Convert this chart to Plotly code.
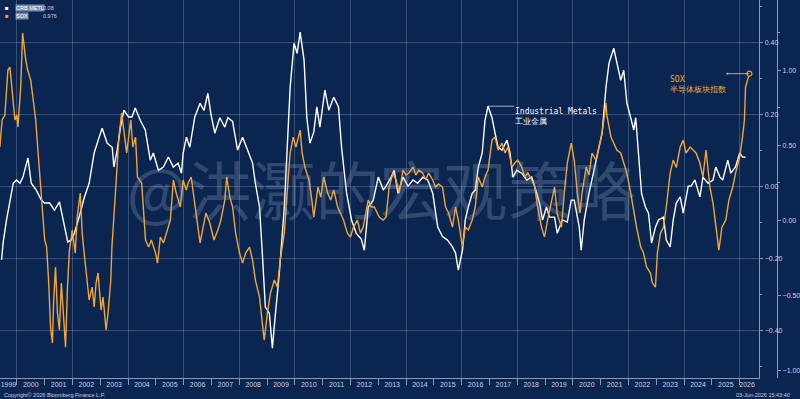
import numpy as np
import pandas as pd
import plotly.graph_objects as go

# ---- data (decimal years) ----
metals_t = [1999.45,1999.51,1999.63,1999.75,1999.87,1999.99,2000.11,2000.22,2000.40,2000.52,2000.70,2000.88,
 2001.00,2001.18,2001.35,2001.53,2001.71,2001.83,2001.95,2002.07,2002.24,2002.42,2002.60,2002.78,2002.96,
 2003.07,2003.25,2003.43,2003.49,2003.61,2003.73,2003.85,2004.02,2004.14,2004.26,2004.44,2004.62,2004.80,
 2004.91,2005.09,2005.27,2005.45,2005.63,2005.80,2005.92,2005.98,2006.10,2006.22,2006.40,2006.59,2006.73,
 2006.87,2006.98,2007.12,2007.30,2007.48,2007.59,2007.76,2007.94,2008.12,2008.30,2008.48,2008.58,2008.73,
 2008.83,2008.94,2009.08,2009.19,2009.29,2009.44,2009.62,2009.72,2009.83,2009.97,2010.08,2010.19,2010.33,
 2010.43,2010.54,2010.68,2010.79,2010.90,2011.08,2011.22,2011.40,2011.57,2011.68,2011.86,2012.04,2012.21,
 2012.39,2012.50,2012.64,2012.82,2013.00,2013.18,2013.28,2013.46,2013.57,2013.71,2013.89,2014.07,2014.25,
 2014.42,2014.60,2014.78,2014.96,2015.14,2015.31,2015.49,2015.67,2015.78,2015.88,2016.03,2016.13,2016.24,
 2016.38,2016.49,2016.60,2016.74,2016.84,2016.95,2017.09,2017.20,2017.31,2017.45,2017.63,2017.74,2017.84,
 2017.98,2018.16,2018.34,2018.52,2018.70,2018.80,2018.91,2019.05,2019.16,2019.34,2019.44,2019.62,2019.80,
 2019.94,2020.05,2020.23,2020.30,2020.41,2020.58,2020.76,2020.94,2021.05,2021.19,2021.30,2021.47,2021.58,
 2021.72,2021.83,2021.94,2022.08,2022.19,2022.26,2022.36,2022.47,2022.61,2022.72,2022.83,2022.97,2023.08,
 2023.26,2023.36,2023.50,2023.61,2023.72,2023.86,2023.97,2024.15,2024.25,2024.39,2024.57,2024.68,2024.86,
 2025.04,2025.14,2025.29,2025.39,2025.57,2025.68,2025.85,2026.00,2026.10,2026.21]
metals_v = [-0.205,-0.155,-0.094,-0.039,0.008,0.017,0.008,0.025,0.078,0.008,-0.011,-0.039,
 -0.047,-0.047,-0.067,-0.044,-0.114,-0.155,-0.150,-0.131,-0.086,-0.033,0.008,0.092,0.136,
 0.161,0.119,0.108,0.053,0.100,0.164,0.211,0.192,0.192,0.217,0.183,0.156,0.072,
 0.092,0.044,0.053,0.081,0.053,0.064,0.036,0.092,0.136,0.108,0.192,0.230,0.210,
 0.258,0.200,0.147,0.190,0.164,0.190,0.180,0.100,0.136,0.100,0.064,0.008,-0.058,
 -0.186,-0.336,-0.353,-0.450,-0.363,-0.242,-0.058,0.092,0.275,0.397,0.369,0.428,0.350,
 0.190,0.119,0.150,0.220,0.164,0.267,0.211,0.247,0.220,0.108,-0.019,-0.094,-0.131,
 -0.147,-0.178,-0.058,-0.039,0.025,-0.011,0.000,0.025,0.044,-0.020,0.025,0.000,0.017,
 0.008,0.025,0.017,-0.020,-0.114,-0.140,-0.150,-0.169,-0.186,-0.233,-0.178,-0.094,-0.058,
 -0.020,-0.011,0.053,0.092,0.183,0.222,0.190,0.147,0.108,0.100,0.128,0.092,0.025,
 0.044,0.036,0.017,0.025,-0.020,-0.047,-0.094,-0.058,-0.086,-0.086,-0.131,-0.094,-0.100,
 -0.039,-0.039,-0.114,-0.178,-0.094,-0.020,0.044,0.108,0.147,0.275,0.342,0.383,0.342,
 0.294,0.322,0.231,0.190,0.156,0.190,0.092,-0.020,-0.058,-0.075,-0.158,-0.114,-0.094,
 -0.086,-0.150,-0.169,-0.094,-0.047,-0.030,-0.075,0.000,0.000,0.017,-0.030,0.025,0.008,
 0.017,0.053,0.025,0.017,0.072,0.036,0.053,0.092,0.081,0.080]

sox_t = [1999.39,1999.47,1999.57,1999.68,1999.75,1999.86,1999.93,2000.00,2000.04,2000.14,2000.21,2000.32,
 2000.39,2000.50,2000.57,2000.68,2000.75,2000.85,2000.93,2001.00,2001.07,2001.14,2001.21,2001.28,2001.32,
 2001.39,2001.46,2001.53,2001.60,2001.67,2001.75,2001.82,2001.89,2001.96,2001.99,2002.10,2002.17,2002.28,
 2002.35,2002.42,2002.49,2002.60,2002.71,2002.78,2002.85,2002.92,2003.03,2003.10,2003.21,2003.28,2003.38,
 2003.42,2003.56,2003.67,2003.77,2003.88,2003.95,2004.10,2004.17,2004.27,2004.34,2004.49,2004.56,2004.63,
 2004.74,2004.84,2004.99,2005.06,2005.16,2005.27,2005.38,2005.52,2005.63,2005.73,2005.88,2005.98,2006.09,
 2006.16,2006.27,2006.41,2006.59,2006.70,2006.80,2006.94,2007.09,2007.23,2007.34,2007.48,2007.55,2007.66,
 2007.76,2007.87,2008.01,2008.12,2008.23,2008.37,2008.48,2008.58,2008.73,2008.83,2008.90,2009.01,2009.12,
 2009.26,2009.37,2009.47,2009.62,2009.72,2009.83,2009.94,2010.04,2010.19,2010.26,2010.36,2010.51,2010.61,
 2010.68,2010.83,2010.93,2011.04,2011.18,2011.29,2011.40,2011.54,2011.65,2011.75,2011.89,2012.00,2012.11,
 2012.25,2012.36,2012.46,2012.64,2012.75,2012.86,2013.03,2013.18,2013.28,2013.39,2013.53,2013.64,2013.75,
 2013.89,2014.00,2014.10,2014.25,2014.35,2014.46,2014.60,2014.71,2014.81,2014.96,2015.06,2015.17,2015.31,
 2015.42,2015.53,2015.67,2015.78,2015.88,2016.03,2016.13,2016.24,2016.38,2016.49,2016.60,2016.74,2016.84,
 2016.95,2017.09,2017.20,2017.31,2017.45,2017.56,2017.66,2017.81,2017.91,2018.02,2018.16,2018.27,2018.38,
 2018.52,2018.63,2018.73,2018.87,2018.98,2019.09,2019.23,2019.34,2019.44,2019.59,2019.69,2019.80,2019.94,
 2020.05,2020.16,2020.26,2020.33,2020.48,2020.58,2020.69,2020.83,2020.94,2021.05,2021.19,2021.22,2021.37,
 2021.47,2021.58,2021.72,2021.83,2021.94,2022.08,2022.19,2022.29,2022.44,2022.54,2022.65,2022.79,2022.86,
 2022.97,2023.04,2023.15,2023.26,2023.36,2023.50,2023.61,2023.72,2023.86,2023.97,2024.07,2024.22,2024.32,
 2024.43,2024.57,2024.68,2024.79,2024.93,2025.04,2025.14,2025.25,2025.36,2025.50,2025.61,2025.75,2025.85,
 2026.00,2026.10,2026.17,2026.21,2026.28,2026.35]
sox_v = [0.487,0.667,0.700,1.000,1.020,0.820,0.667,0.700,0.620,0.887,1.247,1.067,
 1.000,0.933,0.820,0.667,0.487,0.247,0.000,-0.133,-0.180,-0.400,-0.713,-0.820,-0.553,
 -0.313,-0.620,-0.733,-0.420,-0.620,-0.847,-0.447,-0.200,-0.113,-0.067,-0.220,0.020,0.180,
 -0.087,-0.220,-0.353,-0.533,-0.447,-0.580,-0.420,-0.353,-0.600,-0.513,-0.733,-0.620,-0.400,
 -0.180,0.220,0.553,0.713,0.553,0.447,0.667,0.487,0.553,0.287,0.247,0.087,-0.133,
 -0.180,-0.133,-0.220,-0.287,-0.113,-0.153,-0.087,0.000,0.267,0.180,0.087,0.267,0.200,
 0.247,0.287,0.087,-0.153,-0.047,0.047,-0.020,-0.133,-0.067,0.000,0.133,0.287,0.153,
 0.087,-0.087,-0.220,-0.287,-0.220,-0.180,-0.267,-0.400,-0.513,-0.687,-0.800,-0.620,-0.487,
 -0.400,-0.447,-0.267,-0.087,0.180,0.447,0.553,0.487,0.600,0.447,0.353,0.267,0.133,
 0.020,0.220,0.153,0.287,0.180,0.133,0.200,0.087,0.047,0.000,-0.087,-0.113,-0.047,
 0.000,-0.087,-0.047,0.133,0.087,0.087,0.020,0.000,0.020,0.220,0.313,0.267,0.180,
 0.333,0.300,0.313,0.353,0.300,0.333,0.313,0.267,0.313,0.267,0.220,0.240,0.220,
 0.087,0.047,-0.047,0.087,0.000,-0.180,-0.047,-0.067,0.000,0.087,0.287,0.220,0.287,
 0.333,0.533,0.553,0.467,0.513,0.447,0.487,0.353,0.380,0.400,0.353,0.287,0.313,
 0.267,0.220,0.087,-0.047,-0.113,0.000,0.133,0.220,0.040,-0.047,0.180,0.380,0.513,
 0.400,0.180,0.047,0.180,0.353,0.300,0.447,0.400,0.487,0.580,0.780,0.700,0.553,
 0.513,0.467,0.447,0.380,0.313,0.180,0.047,-0.047,-0.180,-0.220,-0.313,-0.353,-0.420,
 -0.447,-0.220,-0.087,-0.047,0.087,0.313,0.400,0.350,0.487,0.533,0.447,0.487,0.467,
 0.447,0.380,0.287,0.467,0.220,0.113,-0.047,-0.200,-0.047,0.000,0.133,0.220,0.313,
 0.420,0.553,0.667,0.887,0.933,0.976]

year_labels = list(range(1999, 2027))

metals_name = "CRB METL"
sox_name = "SOX"
metals_last = "0.08"
sox_last = "0.976"

def to_dt(vals):
    out = []
    for v in vals:
        y = int(np.floor(v))
        out.append(pd.Timestamp(y, 1, 1) + pd.Timedelta(days=(v - y) * 365.25))
    return out

mt = to_dt(metals_t)
st = to_dt(sox_t)

xr = [pd.Timestamp("1999-05-25"), pd.Timestamp("2026-09-16")]
# label each year at the centre of its visible part of the axis
label_pos = []
for y in year_labels:
    a = max(pd.Timestamp(y, 1, 1), xr[0])
    b = min(pd.Timestamp(y + 1, 1, 1), pd.Timestamp("2026-07-15"))
    label_pos.append(a + (b - a) / 2)

BG = "#0b2551"
GRID = "rgba(150,170,200,0.33)"
ORANGE = "#f4a532"
TXT = "#c9d2e0"
AX = "#8a9ab5"

fig = go.Figure()
fig.add_trace(go.Scatter(x=mt, y=metals_v, mode="lines", line=dict(color="#ffffff", width=1.4),
                         xaxis="x", yaxis="y", showlegend=False))
fig.add_trace(go.Scatter(x=st, y=sox_v, mode="lines", line=dict(color=ORANGE, width=1.4),
                         xaxis="x2", yaxis="y2", showlegend=False))
fig.add_trace(go.Scatter(x=[st[-1]], y=[sox_v[-1]], mode="markers",
                         marker=dict(color=BG, size=5, line=dict(color=ORANGE, width=1.2)),
                         xaxis="x2", yaxis="y2", showlegend=False))

tickfont = dict(family="Liberation Sans, Arial", size=7, color=TXT)

fig.update_layout(
    width=800, height=399,
    margin=dict(l=0, r=0, t=0, b=21),
    paper_bgcolor=BG, plot_bgcolor=BG,
    xaxis=dict(domain=[0, 767/800], range=xr, type="date",
               tickmode="array", tickvals=label_pos, ticktext=[str(y) for y in year_labels],
               ticks="", showgrid=False, showline=True, linecolor=AX,
               linewidth=1, tickfont=tickfont, zeroline=False, ticklabeloverflow="allow"),
    xaxis2=dict(overlaying="x", matches="x", type="date", dtick="M24", tick0="2000-01-01",
                showgrid=True, gridcolor=GRID, gridwidth=1, showticklabels=False,
                ticks="outside", ticklen=6, tickcolor=AX, showline=False, zeroline=False,
                anchor="y", side="bottom",
                minor=dict(dtick="M12", ticks="outside", ticklen=6, tickcolor=AX, showgrid=False)),
    yaxis=dict(side="right", range=[-0.533, 0.517], dtick=0.2, tick0=0, tickformat=".2f",
               showgrid=True, gridcolor=GRID, gridwidth=1, zeroline=False,
               showline=True, linecolor=AX, ticks="outside", ticklen=3,
               tickcolor=AX, tickfont=tickfont,
               minor=dict(dtick=0.1, ticks="outside", ticklen=2, tickcolor=AX, showgrid=False)),
    yaxis2=dict(side="right", overlaying="y", anchor="free", position=785/800,
                range=[-1.053, 1.467], dtick=0.5, tick0=0, tickformat=".2f",
                showgrid=False, zeroline=False, showline=True, linecolor=AX,
                ticks="outside", ticklen=3, tickcolor=AX, tickfont=tickfont,
                minor=dict(dtick=0.25, ticks="outside", ticklen=2, tickcolor=AX)),
)

def py(p):  # page pixel row -> paper y (plot area is rows 0..378)
    return (378 - p) / 378

ann = []
# watermark
ann.append(dict(text="@洪灏的宏观策略", xref="paper", yref="paper", x=385/800, y=py(187),
                showarrow=False, font=dict(family="Noto Sans CJK SC", size=64,
                color="rgba(165,180,205,0.25)")))
# legend (top-left)
for i, (nm, val, col) in enumerate([(metals_name, metals_last, "#ffffff"), (sox_name, sox_last, ORANGE)]):
    yy = py(8 + 8 * i)
    ann.append(dict(text="■", xref="paper", yref="paper", x=4/800, y=yy, xanchor="left", yanchor="middle",
                    showarrow=False, borderpad=0, font=dict(size=6, color=col)))
    ann.append(dict(text=nm, xref="paper", yref="paper", x=15/800, y=yy, xanchor="left", yanchor="middle",
                    showarrow=False, bgcolor="rgba(170,180,200,0.7)", borderpad=0,
                    font=dict(family="Liberation Sans Narrow, Liberation Sans", size=5.5, color="#ffffff")))
    ann.append(dict(text=val, xref="paper", yref="paper", x=42/800, y=yy, xanchor="left", yanchor="middle",
                    showarrow=False, borderpad=0, font=dict(family="Liberation Sans", size=5.5, color=TXT)))
# callouts
pk = int(np.argmax(metals_v[100:140])) + 100
ann.append(dict(text="Industrial Metals<br>工业金属", x=mt[pk], y=metals_v[pk], xref="x", yref="y",
                showarrow=True, arrowhead=0, arrowwidth=0.8, arrowcolor="#c8d2e2",
                ax=26, ay=0, xanchor="left", yanchor="top", align="left", borderpad=0,
                font=dict(family="DejaVu Sans Mono", size=8, color="#ffffff")))
ann.append(dict(text="SOX<br>半导体板块指数", x=st[-1], y=sox_v[-1], xref="x2", yref="y2",
                showarrow=True, arrowhead=0, arrowwidth=0.8, arrowcolor="#d8c8a8",
                startarrowhead=6, startarrowsize=0.6, arrowside="start", ax=-22, ay=0,
                xanchor="right", yanchor="top", borderpad=0,
                align="left", font=dict(family="DejaVu Sans Mono", size=8, color=ORANGE)))
# footer
ann.append(dict(text="Copyright© 2026 Bloomberg Finance L.P.", xref="paper", yref="paper", x=2/800, y=py(395),
                xanchor="left", yanchor="middle", showarrow=False,
                font=dict(family="Liberation Sans", size=5.5, color=TXT)))
ann.append(dict(text="03-Jun-2026 15:43:40", xref="paper", yref="paper", x=1, y=py(395),
                xanchor="right", yanchor="middle", showarrow=False,
                font=dict(family="Liberation Sans", size=5.5, color=TXT)))
fig.update_layout(annotations=ann)

fig.write_html("out.html")
